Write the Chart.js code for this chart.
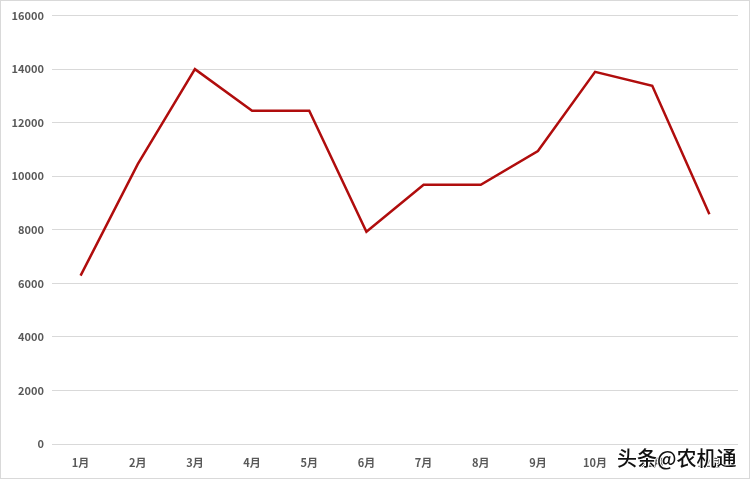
<!DOCTYPE html>
<html>
<head>
<meta charset="utf-8">
<script src="https://cdn.jsdelivr.net/npm/chart.js@4/dist/chart.umd.min.js"></script>
<style>
    body { margin: 0; background: #fff; }
    #wrap { position: relative; width: 750px; height: 479px; box-sizing: border-box; border: 1px solid #d9d9d9; }
    #mark {
        position: absolute; left: 616px; top: 442px;
        font-family: "Noto Sans CJK SC", sans-serif; font-size: 20px; font-weight: 500; color: #111;
        text-shadow: -1px 0 #fff, 1px 0 #fff, 0 -1px #fff, 0 1px #fff;
    }
</style>
</head>
<body>
<div id="wrap">
    <canvas id="chart"></canvas>
    <div id="mark">头条@农机通</div>
</div>
<script>
const months = ['1月', '2月', '3月', '4月', '5月', '6月', '7月', '8月', '9月', '10月', '11月', '12月'];
const sales = [6290, 10450, 14000, 12450, 12450, 7930, 9680, 9680, 10940, 13900, 13380, 8580];
const yTicks = [0, 2000, 4000, 6000, 8000, 10000, 12000, 14000, 16000];

const tickFont = { family: '"Noto Sans CJK SC", sans-serif', size: 11, weight: 'bold' };

new Chart(document.getElementById('chart'), {
    type: 'line',
    data: {
        labels: months,
        datasets: [{
            data: sales,
            borderColor: '#b00d0d',
            borderWidth: 2.5,
            pointRadius: 0,
            tension: 0,
            fill: false
        }]
    },
    options: {
        responsive: true,
        maintainAspectRatio: false,
        animation: false,
        layout: { padding: { top: 11, right: 11, left: 0, bottom: 0 } },
        plugins: { legend: { display: false }, tooltip: { enabled: false } },
        scales: {
            x: {
                offset: true,
                grid: { display: false },
                border: { display: false },
                ticks: { color: '#595959', font: tickFont, padding: 4, maxRotation: 0 },
                afterFit: (s) => { s.height = 34; }
            },
            y: {
                min: 0,
                max: 16000,
                afterBuildTicks: (s) => { s.ticks = yTicks.map(v => ({ value: v })); },
                grid: { color: '#d9d9d9', lineWidth: 1, drawTicks: false },
                border: { display: false },
                ticks: { color: '#595959', font: tickFont, padding: 8, callback: (v) => String(v) },
                afterFit: (s) => { s.width = 51; }
            }
        }
    }
});
</script>
</body>
</html>
